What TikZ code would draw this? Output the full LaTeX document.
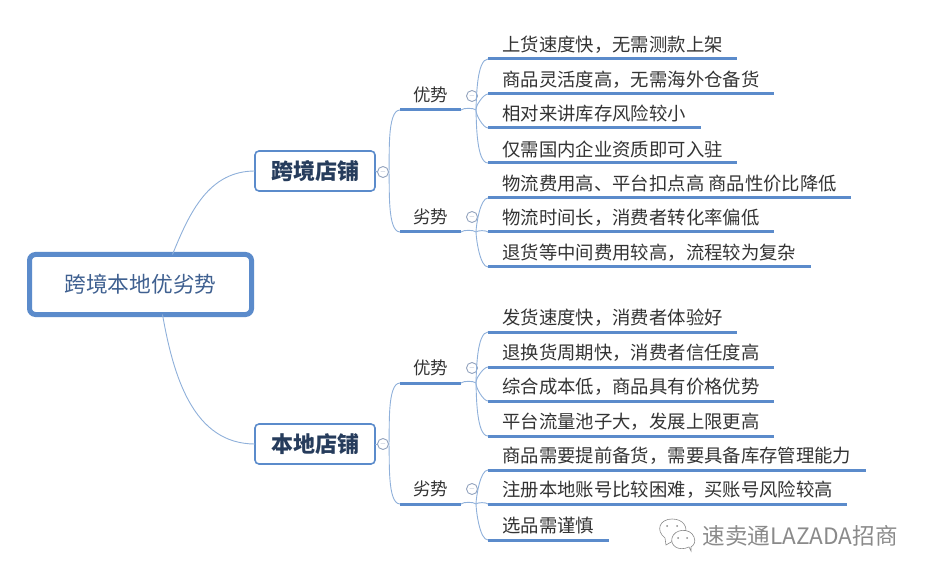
\documentclass[tikz,border=0pt]{standalone}
\usepackage{fontspec}
\setmainfont{Noto Sans CJK SC}
\definecolor{mapblue}{HTML}{5B8BCB}
\definecolor{linkblue}{HTML}{8FB0DA}
\definecolor{foldgray}{HTML}{93A3BE}
\definecolor{marktext}{HTML}{8A8A8A}
\definecolor{roottext}{HTML}{3F6090}
\definecolor{shoptext}{HTML}{263C5C}
\tikzset{
  root/.style={draw=mapblue, line width=5pt, rounded corners=6pt, minimum width=222pt, minimum height=60pt, outer sep=0pt, text=roottext, font=\fontsize{21.7}{24}\selectfont},
  shop/.style={draw=mapblue, line width=1.6pt, rounded corners=4pt, minimum width=120pt, minimum height=40pt, outer sep=0pt, text=shoptext, font=\fontsize{22}{24}\selectfont\bfseries},
  branch/.style={anchor=south west, minimum height=30pt, inner xsep=13pt, inner ysep=0pt, outer sep=0pt, text=black!80, font=\fontsize{17.5}{20}\selectfont,
    append after command={(\tikzlastnode.south west) edge[rule] (\tikzlastnode.south east)}},
  leaf/.style={anchor=south west, minimum height=28pt, inner xsep=14.5pt, inner ysep=0pt, outer sep=0pt, text=black!80, font=\fontsize{18.35}{20}\selectfont,
    append after command={(\tikzlastnode.south west) edge[rule] (\tikzlastnode.south east)}},
  rule/.style={draw=mapblue, line width=3pt},
  link/.style={draw=linkblue, line width=0.9pt, looseness=0.55},
  fold/.style={circle, draw=foldgray, line width=0.9pt, fill=white, minimum size=11pt, inner sep=0pt, font=\scriptsize, text=foldgray},
  brandmark/.style={text=marktext, font=\fontsize{22.6}{24}\selectfont},
  bubble/.style={draw=marktext, line width=0.6pt, fill=white}
}
\begin{document}
\begin{tikzpicture}[x=1pt, y=-1pt]
  \useasboundingbox (0,0) rectangle (931,577);
  %nodes
  \node[root] at (140.5,284.5) (root) {跨境本地优劣势};
  \node[shop] at (315,171) (shopa) {跨境店铺};
  \node[shop] at (315,444) (shopb) {本地店铺};
  \node[fold] at (383,172) (folda) {$-$};
  \node[fold] at (383,444) (foldb) {$-$};
  %upper branches
  \node[branch] at (400,110) (prosa) {优势};
  \node[branch] at (400,232) (consa) {劣势};
  \node[fold] at (472,96) (foldpa) {$-$};
  \node[fold] at (472,217) (foldca) {$-$};
  \coordinate (hubpa) at ([xshift=15pt]prosa.south east);
  \coordinate (hubca) at ([xshift=15pt]consa.south east);
  \node[leaf] at (488,59) (la) {上货速度快，无需测款上架};
  \node[leaf] at (488,94) (lb) {商品灵活度高，无需海外仓备货};
  \node[leaf] at (488,128) (lc) {相对来讲库存风险较小};
  \node[leaf] at (488,163) (ld) {仅需国内企业资质即可入驻};
  \node[leaf] at (488,198) (le) {物流费用高、平台扣点高 商品性价比降低};
  \node[leaf] at (488,232) (lf) {物流时间长，消费者转化率偏低};
  \node[leaf] at (488,267) (lg) {退货等中间费用较高，流程较为复杂};
  %lower branches
  \node[branch] at (400,383) (prosb) {优势};
  \node[branch] at (400,504) (consb) {劣势};
  \node[fold] at (472,368) (foldpb) {$-$};
  \node[fold] at (472,489) (foldcb) {$-$};
  \coordinate (hubpb) at ([xshift=15pt]prosb.south east);
  \coordinate (hubcb) at ([xshift=15pt]consb.south east);
  \node[leaf] at (488,332) (lh) {发货速度快，消费者体验好};
  \node[leaf] at (488,367) (li) {退换货周期快，消费者信任度高};
  \node[leaf] at (488,401) (lj) {综合成本低，商品具有价格优势};
  \node[leaf] at (488,436) (lk) {平台流量池子大，发展上限更高};
  \node[leaf] at (488,470) (ll) {商品需要提前备货，需要具备库存管理能力};
  \node[leaf] at (488,504) (lm) {注册本地账号比较困难，买账号风险较高};
  \node[leaf] at (488,540) (ln) {选品需谨慎};
  %connectors
  \path[link]
    ([xshift=32pt]root.north) edge[out=68, in=180, looseness=1] (shopa.west)
    ([xshift=22pt]root.south) edge[out=-80, in=180, looseness=1] (shopb.west)
    (shopa.east) edge (folda.west)
    (shopb.east) edge (foldb.west)
    (folda.east) edge[out=86, in=180] (prosa.south west)
    (folda.east) edge[out=-86, in=180] (consa.south west)
    (foldb.east) edge[out=86, in=180] (prosb.south west)
    (foldb.east) edge[out=-86, in=180] (consb.south west)
    (prosa.south east) edge (hubpa)
    (consa.south east) edge (hubca)
    (prosb.south east) edge (hubpb)
    (consb.south east) edge (hubcb)
    (hubpa) edge[out=88, in=180] (la.south west)
    (hubpa) edge[out=100, in=180] (lb.south west)
    (hubpa) edge[out=-95, in=180] (lc.south west)
    (hubpa) edge[out=-88, in=180] (ld.south west)
    (hubca) edge[out=88, in=180] (le.south west)
    (hubca) edge (lf.south west)
    (hubca) edge[out=-88, in=180] (lg.south west)
    (hubpb) edge[out=88, in=180] (lh.south west)
    (hubpb) edge[out=100, in=180] (li.south west)
    (hubpb) edge[out=-95, in=180] (lj.south west)
    (hubpb) edge[out=-88, in=180] (lk.south west)
    (hubcb) edge[out=88, in=180] (ll.south west)
    (hubcb) edge (lm.south west)
    (hubcb) edge[out=-88, in=180] (ln.south west);
  %watermark
  \draw[bubble] (666,545) -- (665,538) .. controls (655,530) and (660,519) .. (672,519) .. controls (684,519) and (688,528) .. (685,534) -- cycle;
  \draw[bubble] (691,551) -- (689,547) .. controls (678,552) and (670,545) .. (672,538) .. controls (674,529) and (690,527) .. (694,537) .. controls (696,542) and (694,545) .. (691,547) -- cycle;
  \fill[marktext] (667,526) circle (1pt) (677,526) circle (1pt) (678,538) circle (1pt) (687,538) circle (1pt);
  \node[brandmark, anchor=west] at (699,536) (brand) {速卖通LAZADA招商};
\end{tikzpicture}
\end{document}
